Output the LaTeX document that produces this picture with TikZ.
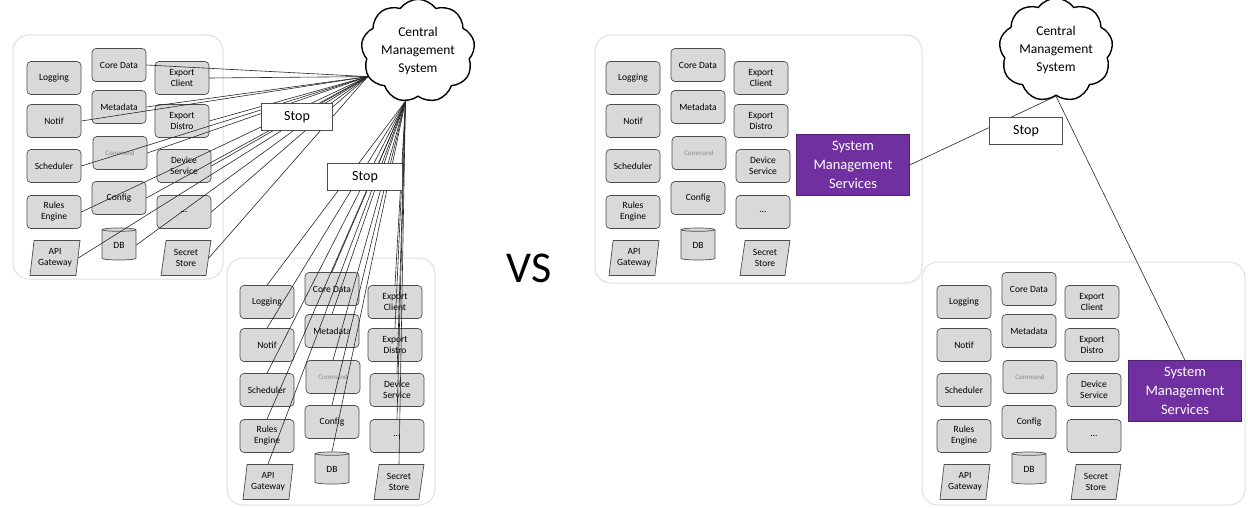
\documentclass[tikz,border=0pt]{standalone}
\usepackage{fontspec}
\setmainfont{Carlito}
\usetikzlibrary{shapes.geometric,shapes.symbols}
\definecolor{boxfill}{HTML}{D9D9D9}
\definecolor{boxline}{HTML}{4D4D4D}
\definecolor{panelline}{HTML}{DEDEDE}
\definecolor{smspurple}{HTML}{7030A0}
\newcommand{\boxfont}{\fontsize{9.5}{11}\selectfont}
\tikzset{
 svc/.style={draw=boxline, fill=boxfill, rounded corners=4pt, minimum width=54pt, minimum height=33pt, inner sep=1pt, align=center, font=\boxfont, line width=0.7pt},
 para/.style={draw=boxline, fill=boxfill, trapezium, trapezium left angle=80, trapezium right angle=100, trapezium stretches=true, minimum width=50pt, minimum height=35pt, inner sep=0pt, align=center, font=\boxfont, line width=0.7pt},
 dbcyl/.style={draw=boxline, cylinder, shape border rotate=90, aspect=0.3, cylinder uses custom fill, cylinder body fill=boxfill, cylinder end fill=boxfill, minimum width=34pt, minimum height=32pt, inner sep=0pt, font=\boxfont, line width=0.7pt},
 panel/.style={draw=panelline, rounded corners=16pt, line width=1pt},
 fan/.style={line width=0.6pt, draw=black!85},
 stopbox/.style={draw=boxline, fill=white, minimum height=27pt, font=\fontsize{14}{16}\selectfont, line width=0.8pt},
 cms/.style={cloud, cloud puffs=9, cloud puff arc=110, aspect=1.15, draw=black, line width=1.4pt, fill=white, minimum width=106pt, minimum height=92pt, inner sep=0pt, align=center, font=\fontsize{13.5}{18}\selectfont},
 sms/.style={fill=smspurple, draw=smspurple!70!black, minimum width=113pt, minimum height=61pt, align=center, text=white, font=\fontsize{14.5}{19}\selectfont, inner sep=0pt},
}
\newcommand{\svcset}[3]{%
\begin{scope}[shift={(#2,#3)}]
\node[svc] (#1log) at (0,0) {Logging};
\node[svc] (#1noti) at (0,43) {Notif};
\node[svc] (#1sch) at (0,88) {Scheduler};
\node[svc] (#1rul) at (0,134) {Rules\\Engine};
\node[para] (#1api) at (1,180) {API\\Gateway};
\node[svc] (#1cor) at (65,-13) {Core Data};
\node[svc] (#1met) at (65,29) {Metadata};
\node[svc,text=black!45,font=\fontsize{7}{8}\selectfont] (#1cmd) at (66,75) {Command};
\node[svc] (#1cfg) at (65,120) {Config};
\node[dbcyl] (#1db) at (65,167) {DB};
\node[svc] (#1exc) at (128,0) {Export\\Client};
\node[svc] (#1exd) at (128,43) {Export\\Distro};
\node[svc] (#1dev) at (130,88) {Device\\Service};
\node[svc] (#1dot) at (130,134) {\ldots};
\node[para] (#1sec) at (132,180) {Secret\\Store};
\end{scope}}
\begin{document}
\begin{tikzpicture}[x=1pt,y=-1pt]
\useasboundingbox (0,0) rectangle (1248,508);
% panels
\node[panel, minimum width=210pt, minimum height=244pt] (pA) at (118,157) {};
\node[panel, minimum width=208pt, minimum height=247pt] (pB) at (331,381.5) {};
\node[panel, minimum width=327pt, minimum height=248pt] (pC) at (758.5,159) {};
\node[panel, minimum width=323pt, minimum height=243pt] (pD) at (1083.5,383.5) {};
% clusters
\svcset{A}{54}{78}
\svcset{B}{267}{302}
\svcset{C}{633}{78}
\svcset{D}{964}{302}
% clouds
\node[cms] (cl) at (418,51) {Central\\Management\\System};
\node[cms] (cr) at (1056,50) {Central\\Management\\System};
% fans (left)
\foreach \n in {noti,sch,rul,api,cor,met,cmd,cfg,db,exc,exd,dev,dot,sec}
  \draw[fan] (cl.207) -- (A\n.east);
\foreach \n in {log,noti,sch,rul,api,cor,met,cmd,cfg,db,exc,exd,dev,dot,sec}
  \draw[fan] (cl.256) -- (B\n.north);
\node[stopbox, minimum width=71pt] (s1) at (297,117) {Stop};
\node[stopbox, minimum width=75pt] (s2) at (365,177) {Stop};
% VS
\node[font=\fontsize{44}{50}\selectfont] (vs) at (529,268) {VS};
% right side
\node[sms] (p1) at (853,165) {System\\Management\\Services};
\node[sms] (p2) at (1185,391) {System\\Management\\Services};
\draw[fan] (p1.east) -- (cr.south);
\draw[fan] (cr.south) -- (p2.north);
\node[stopbox, minimum width=73pt] (s3) at (1026,131) {Stop};
\end{tikzpicture}
\end{document}
